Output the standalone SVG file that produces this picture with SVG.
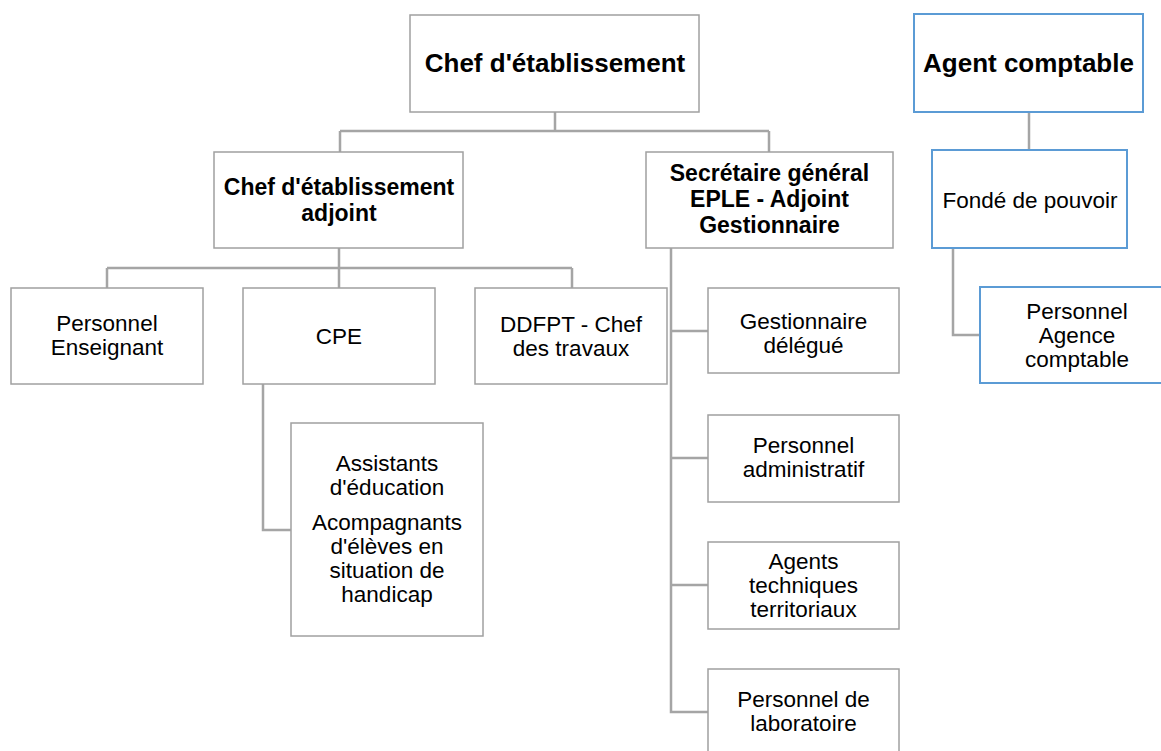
<svg xmlns="http://www.w3.org/2000/svg" width="1161" height="751" viewBox="0 0 1161 751">
<style>
.box{fill:#ffffff;stroke:#a0a0a0;stroke-width:1.5}
.bbox{fill:#ffffff;stroke:#5b9bd5;stroke-width:2}
.conn{fill:none;stroke:#a5a5a5;stroke-width:2.5}
text{font-family:"Liberation Sans",Arial,sans-serif;fill:#000;text-anchor:middle}
.t{font-size:22.5px}
.b1{font-size:26px;font-weight:bold}
.b2{font-size:23px;font-weight:bold}
</style>
<rect width="1161" height="751" fill="#ffffff"/>
<g id="connectors">
<path class="conn" d="M555,112 V131 M340,131 H769 M340,131 V152 M769,131 V152"/>
<path class="conn" d="M339,248 V268 M107,268 H572 M107,268 V288 M339,268 V288 M572,268 V288"/>
<path class="conn" d="M263,384 V530 H291"/>
<path class="conn" d="M671,248 V712 H708 M671,331 H708 M671,458 H708 M671,585 H708"/>
<path class="conn" d="M1029,112 V150"/>
<path class="conn" d="M953,248 V335 H980"/>
</g>
<g id="n-chef">
<rect class="box" x="410" y="15" width="289" height="97"/>
<text class="b1" x="555" y="72">Chef d'établissement</text>
</g>
<g id="n-agent">
<rect class="bbox" x="914" y="14" width="229" height="98"/>
<text class="b1" x="1028.5" y="72">Agent comptable</text>
</g>
<g id="n-adjoint">
<rect class="box" x="214" y="152" width="249" height="96"/>
<text class="b2" x="339" y="195">Chef d'établissement</text>
<text class="b2" x="339" y="221">adjoint</text>
</g>
<g id="n-sg">
<rect class="box" x="646" y="152" width="247" height="96"/>
<text class="b2" x="769.5" y="181">Secrétaire général</text>
<text class="b2" x="769.5" y="207">EPLE - Adjoint</text>
<text class="b2" x="769.5" y="233">Gestionnaire</text>
</g>
<g id="n-fonde">
<rect class="bbox" x="932" y="150" width="195" height="98"/>
<text class="t" x="1030" y="208">Fondé de pouvoir</text>
</g>
<g id="n-pac">
<rect class="bbox" x="980" y="287" width="190" height="96"/>
<text class="t" x="1077" y="319">Personnel</text>
<text class="t" x="1077" y="343">Agence</text>
<text class="t" x="1077" y="367">comptable</text>
</g>
<g id="n-pe">
<rect class="box" x="11" y="288" width="192" height="96"/>
<text class="t" x="107" y="331">Personnel</text>
<text class="t" x="107" y="355">Enseignant</text>
</g>
<g id="n-cpe">
<rect class="box" x="243" y="288" width="192" height="96"/>
<text class="t" x="339" y="344">CPE</text>
</g>
<g id="n-ddfpt">
<rect class="box" x="475" y="288" width="192" height="96"/>
<text class="t" x="571" y="332">DDFPT - Chef</text>
<text class="t" x="571" y="356">des travaux</text>
</g>
<g id="n-aed">
<rect class="box" x="291" y="423" width="192" height="213"/>
<text class="t" x="387" y="471">Assistants</text>
<text class="t" x="387" y="495">d'éducation</text>
<text class="t" x="387" y="530">Acompagnants</text>
<text class="t" x="387" y="554">d'élèves en</text>
<text class="t" x="387" y="578">situation de</text>
<text class="t" x="387" y="602">handicap</text>
</g>
<g id="n-gd">
<rect class="box" x="708" y="288" width="191" height="85"/>
<text class="t" x="803.5" y="329">Gestionnaire</text>
<text class="t" x="803.5" y="353">délégué</text>
</g>
<g id="n-pa">
<rect class="box" x="708" y="415" width="191" height="87"/>
<text class="t" x="803.5" y="453">Personnel</text>
<text class="t" x="803.5" y="477">administratif</text>
</g>
<g id="n-att">
<rect class="box" x="708" y="542" width="191" height="87"/>
<text class="t" x="803.5" y="569">Agents</text>
<text class="t" x="803.5" y="593">techniques</text>
<text class="t" x="803.5" y="617">territoriaux</text>
</g>
<g id="n-pl">
<rect class="box" x="708" y="669" width="191" height="90"/>
<text class="t" x="803.5" y="707">Personnel de</text>
<text class="t" x="803.5" y="731">laboratoire</text>
</g>
</svg>
